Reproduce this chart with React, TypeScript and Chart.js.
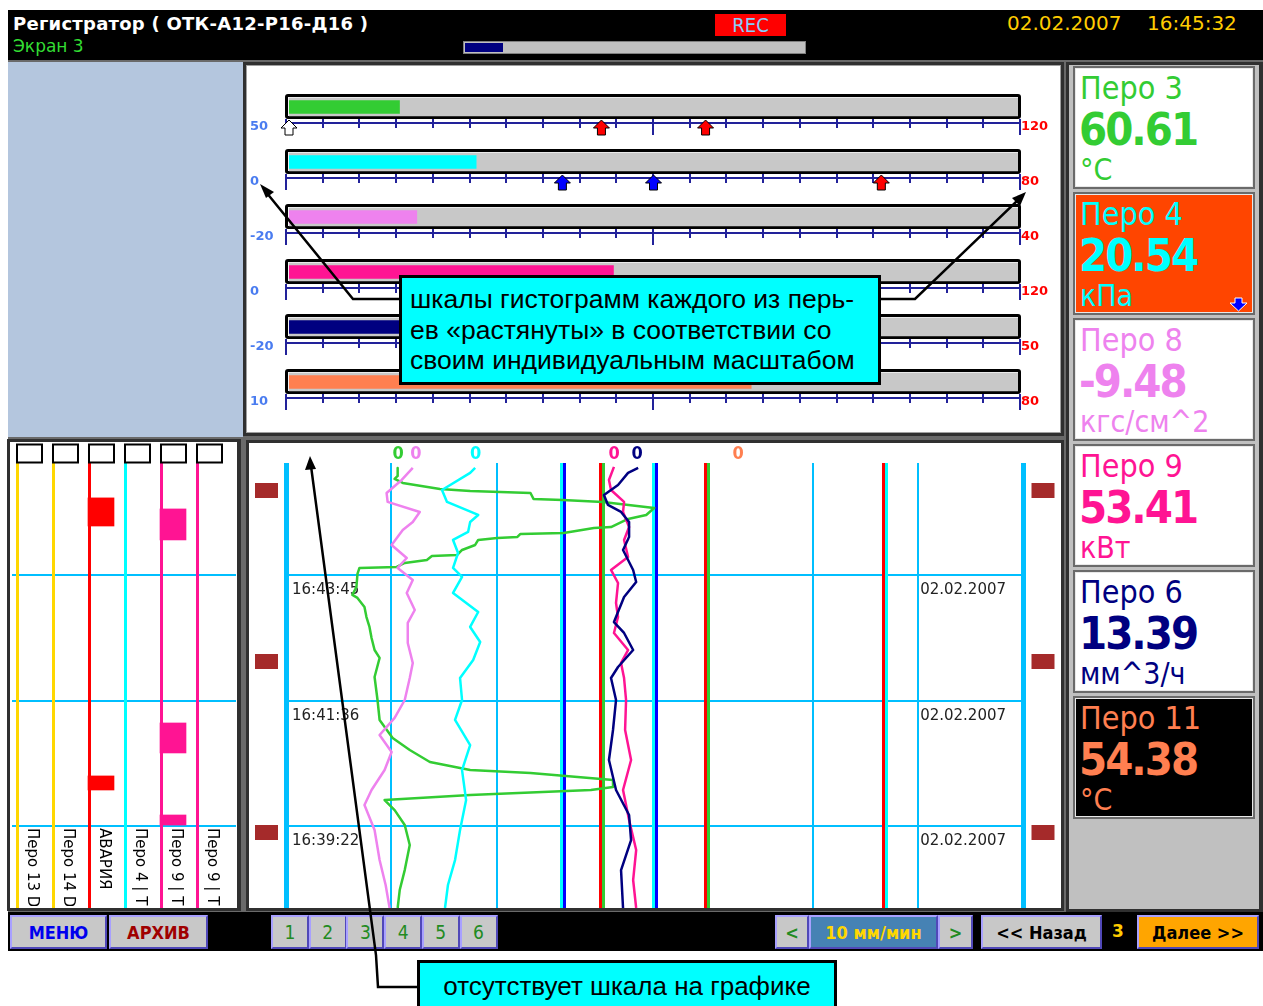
import React, { useEffect, useRef } from "react";
import { Chart, registerables } from "chart.js";
Chart.register(...registerables);

const FONT = '"DejaVu Sans", Verdana, sans-serif';
const FONT_C = '"DejaVu Sans Condensed", "DejaVu Sans", sans-serif';
const FONT_A = '"Liberation Sans", Arial, sans-serif';

// ---------- pens ----------
const penNames = ["Перо 3", "Перо 4", "Перо 8", "Перо 9", "Перо 6", "Перо 11"];
const penValues = [60.61, 20.54, -9.48, 53.41, 13.39, 54.38];
const penUnits = ["°C", "кПа", "кгс/см^2", "кВт", "мм^3/ч", "°C"];
const scaleMin = [50, 0, -20, 0, -20, 10];
const scaleMax = [120, 80, 40, 120, 50, 80];
const penColors = ["#33cc33", "#00ffff", "#ee82ee", "#ff1493", "#000080", "#ff7f50"];
const panelBg = ["#ffffff", "#ff4500", "#ffffff", "#ffffff", "#ffffff", "#000000"];
// pen position markers at the top of the trend (percent of scale)
const markerPct = [15.2, 25.7, 17.6, 44.5, 47.6, 61.3];

// ---------- alarms (setpoints) ----------
const alarmPen = [0, 0, 0, 1, 1, 1];
const alarmValue = [50, 80, 90, 30, 40, 65];
const alarmColor = ["#ffffff", "#ff0000", "#ff0000", "#0000ff", "#0000ff", "#ff0000"];

// ---------- time axis (divisions from top of trend) ----------
const timeGrid = [1, 2, 3];
const timeLabels = ["16:43:45", "16:41:36", "16:39:22"];
const dateLabel = "02.02.2007";
const timeMarks = [0.327, 1.685, 3.048];
const timeTop = 0.108;
const timeBottom = 3.653;

// ---------- trend traces: [time division, percent of pen scale] ----------
const pen3Trace = [[0.147,15.14],[0.211,15.14],[0.235,14.73],[0.267,15.83],[0.315,20.87],[0.331,24.97],[0.347,33.15],[0.394,33.56],[0.402,37.52],[0.418,42.97],[0.466,49.93],[0.522,48.84],[0.554,46.38],[0.618,44.07],[0.625,41.75],[0.665,37.65],[0.673,31.79],[0.697,31.38],[0.705,28.65],[0.721,26.06],[0.761,25.65],[0.801,23.87],[0.841,23.19],[0.849,19.78],[0.880,19.10],[0.904,16.10],[0.936,15.01],[0.944,9.96],[0.992,9.69],[1.096,9.55],[1.159,9.00],[1.183,9.69],[1.255,10.64],[1.335,10.91],[1.414,11.32],[1.502,11.60],[1.598,12.01],[1.661,12.69],[1.813,12.01],[1.996,12.41],[2.155,12.69],[2.299,14.46],[2.394,16.78],[2.490,19.51],[2.554,24.97],[2.578,33.15],[2.633,44.34],[2.689,44.34],[2.713,41.34],[2.753,24.97],[2.793,13.37],[2.873,14.73],[2.992,16.10],[3.151,16.78],[3.351,16.10],[3.510,15.42],[3.653,15.14]];
const pen8Trace = [[0.147,17.19],[0.243,15.69],[0.347,13.64],[0.418,13.78],[0.498,18.14],[0.578,17.19],[0.641,15.83],[0.761,14.32],[0.865,16.37],[0.944,15.14],[1.040,17.19],[1.143,16.37],[1.279,17.46],[1.382,16.51],[1.542,16.51],[1.701,17.19],[1.821,16.78],[1.996,16.10],[2.139,14.73],[2.275,12.69],[2.410,14.32],[2.554,13.37],[2.713,11.60],[2.833,10.64],[3.032,12.01],[3.271,12.69],[3.470,13.51],[3.653,14.05]];
const pen4Trace = [[0.147,25.65],[0.187,24.97],[0.323,21.15],[0.418,21.83],[0.522,26.06],[0.578,24.97],[0.657,24.69],[0.721,22.65],[0.825,23.33],[0.944,22.65],[1.016,23.87],[1.143,22.65],[1.295,26.06],[1.414,24.97],[1.534,26.33],[1.677,25.38],[1.821,23.60],[1.996,23.87],[2.155,22.92],[2.355,24.97],[2.554,23.87],[2.793,24.42],[3.032,23.60],[3.271,22.92],[3.470,21.96],[3.653,21.56]];
const pen9Trace = [[0.139,44.47],[0.243,43.79],[0.323,44.07],[0.418,45.84],[0.498,45.70],[0.618,46.52],[0.721,45.84],[0.857,46.38],[0.960,44.07],[1.064,45.02],[1.223,44.75],[1.335,45.02],[1.462,44.47],[1.598,46.38],[1.701,45.43],[1.821,45.84],[1.996,46.11],[2.235,45.98],[2.474,46.79],[2.713,45.70],[2.952,46.52],[3.191,47.48],[3.430,47.07],[3.653,47.48]];
const pen6Trace = [[0.147,47.75],[0.187,46.38],[0.283,45.02],[0.363,43.11],[0.442,43.66],[0.498,45.43],[0.578,46.52],[0.697,46.52],[0.801,45.70],[0.960,47.07],[1.056,47.48],[1.175,45.84],[1.375,44.47],[1.462,45.84],[1.598,47.07],[1.733,45.02],[1.821,44.07],[1.996,44.75],[2.235,44.34],[2.474,43.79],[2.713,44.75],[2.912,46.52],[3.112,46.79],[3.351,45.43],[3.653,45.70]];
const trendPens = [4, 3, 1, 2, 0];
const trendTraces = [pen6Trace, pen9Trace, pen4Trace, pen8Trace, pen3Trace];

// ---------- discrete events ----------
const eventChannels = ["Перо 13 D", "Перо 14 D", "АВАРИЯ", "Перо 4 | Т", "Перо 9 | Т", "Перо 9 | Т"];
const eventColors = ["#ffd700", "#ffd700", "#ff0000", "#00ffff", "#ff1493", "#ff1493"];
const eventChan = [2, 4, 4, 2, 4];
const eventFrom = [0.386, 0.474, 2.179, 2.601, 2.912];
const eventTo = [0.610, 0.721, 2.418, 2.713, 2.992];

const pct = (i: number, v: number) => ((v - scaleMin[i]) / (scaleMax[i] - scaleMin[i])) * 100;

function drawArrow(ctx: any, cx: number, top: number, color: string) {
  ctx.beginPath();
  ctx.moveTo(cx, top);
  ctx.lineTo(cx + 8, top + 8);
  ctx.lineTo(cx + 4, top + 8);
  ctx.lineTo(cx + 4, top + 15);
  ctx.lineTo(cx - 4, top + 15);
  ctx.lineTo(cx - 4, top + 8);
  ctx.lineTo(cx - 8, top + 8);
  ctx.closePath();
  ctx.fillStyle = color;
  ctx.fill();
  ctx.strokeStyle = "#000";
  ctx.lineWidth = 1;
  ctx.stroke();
}

// ---------- histogram ----------
const histPlugin = {
  id: "histDecor",
  beforeDatasetsDraw(chart: any) {
    const { ctx, scales: { x, y } } = chart;
    const x0 = x.getPixelForValue(0), x1 = x.getPixelForValue(100);
    ctx.save();
    penNames.forEach((_, i) => {
      const cy = y.getPixelForValue(i);
      ctx.fillStyle = "#000";
      ctx.beginPath();
      ctx.roundRect(x0 - 4, cy - 13, x1 - x0 + 7, 25, 3);
      ctx.fill();
      ctx.fillStyle = "#f4f4f4";
      ctx.fillRect(x0 - 1, cy - 10, x1 - x0 + 1, 19);
    });
    ctx.restore();
  },
  afterDatasetsDraw(chart: any) {
    const { ctx, scales: { x, y } } = chart;
    const a0 = x.getPixelForValue(0) - 3, a1 = x.getPixelForValue(100) + 2;
    ctx.save();
    penNames.forEach((_, i) => {
      const cy = y.getPixelForValue(i);
      ctx.fillStyle = "#22229a";
      ctx.fillRect(a0, Math.round(cy + 15), a1 - a0, 2);
      for (let k = 0; k <= 20; k++) {
        const tx = Math.round(a0 + ((a1 - a0) * k) / 20);
        ctx.fillRect(tx - 1, Math.round(cy + 12), 2, k % 10 === 0 ? 16 : 9);
      }
      ctx.font = `bold 13px ${FONT}`;
      ctx.textBaseline = "middle";
      ctx.textAlign = "left";
      ctx.fillStyle = "#4a7cf0";
      ctx.fillText(String(scaleMin[i]), 3, cy + 20);
      ctx.fillStyle = "#ff0000";
      ctx.fillText(String(scaleMax[i]), a1 + 1, cy + 20);
    });
    alarmPen.forEach((pi, k) => {
      const px = x.getPixelForValue(pct(pi, alarmValue[k]));
      drawArrow(ctx, px, y.getPixelForValue(pi) + 13, alarmColor[k]);
    });
    ctx.restore();
  },
};

function HistChart() {
  const ref = useRef<HTMLCanvasElement>(null);
  useEffect(() => {
    const chart = new Chart(ref.current as any, {
      type: "bar",
      data: {
        labels: penNames,
        datasets: [
          { data: penValues.map((v, i) => pct(i, v)), backgroundColor: penColors, barThickness: 13, grouped: false, order: 1 } as any,
          { data: penNames.map(() => 100), backgroundColor: "#c8c8c8", barThickness: 18, grouped: false, order: 2 } as any,
        ],
      },
      options: {
        indexAxis: "y",
        responsive: false,
        animation: false,
        events: [],
        layout: { padding: { left: 42, right: 42, top: 13.5, bottom: 22.5 } },
        scales: { x: { display: false, min: 0, max: 100 }, y: { display: false } },
        plugins: { legend: { display: false }, tooltip: { enabled: false } },
      },
      plugins: [histPlugin],
    } as any);
    return () => chart.destroy();
  }, []);
  return <canvas ref={ref} width={813} height={366} style={{ position: "absolute", left: 247, top: 66 }} />;
}

// ---------- trend ----------
const trendPlugin = {
  id: "trendDecor",
  beforeDatasetsDraw(chart: any) {
    const { ctx, chartArea: ca, scales: { x, y } } = chart;
    ctx.save();
    alarmPen.forEach((pi, k) => {
      const p = pct(pi, alarmValue[k]);
      if (p <= 0) return;
      const px = Math.round(x.getPixelForValue(p));
      const blue = alarmColor[k] === "#0000ff";
      ctx.fillStyle = blue ? penColors[pi] : alarmColor[k];
      ctx.fillRect(px - 3, ca.top, 3, ca.bottom - ca.top);
      ctx.fillStyle = blue ? alarmColor[k] : penColors[pi];
      ctx.fillRect(px, ca.top, 3, ca.bottom - ca.top);
    });
    ctx.font = `15px ${FONT}`;
    ctx.fillStyle = "#222";
    ctx.textBaseline = "alphabetic";
    ctx.textAlign = "left";
    timeGrid.forEach((t, i) => {
      const py = y.getPixelForValue(t);
      ctx.fillText(timeLabels[i], ca.left + 6, py + 19);
      ctx.fillText(dateLabel, x.getPixelForValue(600 / 7) + 2, py + 19);
    });
    ctx.restore();
  },
  afterDatasetsDraw(chart: any) {
    const { ctx, chartArea: ca, scales: { x, y } } = chart;
    ctx.save();
    ctx.fillStyle = "#a52a2a";
    timeMarks.forEach((t) => {
      const py = Math.round(y.getPixelForValue(t));
      ctx.fillRect(ca.left - 31, py - 7, 23, 15);
      ctx.fillRect(ca.right + 8, py - 7, 23, 15);
    });
    ctx.font = `bold 18px ${FONT_C}`;
    ctx.textAlign = "center";
    ctx.textBaseline = "middle";
    markerPct.forEach((p, i) => {
      ctx.fillStyle = penColors[i];
      ctx.fillText("0", x.getPixelForValue(p), ca.top - 9);
    });
    ctx.restore();
  },
};

function TrendChart() {
  const ref = useRef<HTMLCanvasElement>(null);
  useEffect(() => {
    const chart = new Chart(ref.current as any, {
      type: "scatter",
      data: {
        datasets: trendTraces.map((tr, k) => ({
          data: tr.map(([t, p]) => ({ x: p, y: t })),
          borderColor: penColors[trendPens[k]],
          backgroundColor: penColors[trendPens[k]],
          borderWidth: 2.5,
          pointRadius: 0,
          showLine: true,
          tension: 0,
          borderJoinStyle: "round",
        })),
      },
      options: {
        responsive: false,
        animation: false,
        events: [],
        layout: { padding: { left: 37, right: 37.5, top: 20, bottom: 0 } },
        scales: {
          x: {
            type: "linear",
            min: 0,
            max: 100,
            afterBuildTicks: (s: any) => { s.ticks = [0, 1, 2, 3, 4, 5, 6, 7].map((i) => ({ value: (i * 100) / 7 })); },
            afterFit: (s: any) => { s.height = 0; },
            ticks: { display: false },
            border: { display: false },
            grid: { color: "#00bfff", lineWidth: (c: any) => (c.index === 0 || c.index === 7 ? 5 : 2), drawTicks: false },
          },
          y: {
            type: "linear",
            reverse: true,
            min: timeTop,
            max: timeBottom,
            afterBuildTicks: (s: any) => { s.ticks = timeGrid.map((v) => ({ value: v })); },
            afterFit: (s: any) => { s.width = 0; },
            ticks: { display: false },
            border: { display: false },
            grid: { color: "#00bfff", lineWidth: 2, drawTicks: false },
          },
        },
        plugins: { legend: { display: false }, tooltip: { enabled: false } },
      },
      plugins: [trendPlugin],
    } as any);
    return () => chart.destroy();
  }, []);
  return <canvas ref={ref} width={812} height={465} style={{ position: "absolute", left: 249, top: 443 }} />;
}

// ---------- events ----------
const eventPlugin = {
  id: "eventDecor",
  beforeDatasetsDraw(chart: any) {
    const { ctx, chartArea: ca, scales: { x, y } } = chart;
    ctx.save();
    ctx.fillStyle = "#00bfff";
    timeGrid.forEach((t) => {
      const py = Math.round(y.getPixelForValue(t));
      ctx.fillRect(2, py - 1, chart.width - 3, 2);
    });
    eventChannels.forEach((_, i) => {
      const lx = Math.round(x.getPixelForValue(i) - 13);
      ctx.fillStyle = eventColors[i];
      ctx.fillRect(lx, ca.top, 3, ca.bottom - ca.top);
      ctx.strokeStyle = "#000";
      ctx.lineWidth = 2;
      ctx.strokeRect(lx + 1, 2.5, 25, 18);
    });
    ctx.beginPath();
    ctx.rect(0, ca.top, chart.width, ca.bottom - ca.top - 2);
    ctx.clip();
    ctx.font = `15px ${FONT}`;
    ctx.fillStyle = "#000";
    ctx.textBaseline = "bottom";
    ctx.textAlign = "left";
    const ly = y.getPixelForValue(timeGrid[timeGrid.length - 1]) + 2;
    eventChannels.forEach((name, i) => {
      const lx = x.getPixelForValue(i) - 13 + 8;
      ctx.save();
      ctx.translate(lx, ly);
      ctx.rotate(Math.PI / 2);
      ctx.fillText(name, 0, 0);
      ctx.restore();
    });
    ctx.restore();
  },
};

function EventChart() {
  const ref = useRef<HTMLCanvasElement>(null);
  useEffect(() => {
    const chart = new Chart(ref.current as any, {
      type: "bar",
      data: {
        labels: eventChannels,
        datasets: eventChan.map((c, k) => ({
          data: eventChannels.map((_, i) => (i === c ? [eventFrom[k], eventTo[k]] : null)),
          backgroundColor: eventColors[c],
          barThickness: 26,
          grouped: false,
        })) as any,
      },
      options: {
        responsive: false,
        animation: false,
        events: [],
        layout: { padding: { left: 1, right: 10, top: 21, bottom: 0 } },
        scales: {
          x: { type: "category", display: false },
          y: { type: "linear", display: false, reverse: true, min: timeTop, max: timeBottom },
        },
        plugins: { legend: { display: false }, tooltip: { enabled: false } },
      },
      plugins: [eventPlugin],
    } as any);
    return () => chart.destroy();
  }, []);
  return <canvas ref={ref} width={227} height={466} style={{ position: "absolute", left: 10, top: 442 }} />;
}

// ---------- html helpers ----------
function Txt(p: any) {
  const size = p.size;
  return (
    <div
      style={{
        position: "absolute",
        left: p.x,
        top: p.y - 0.846 * size,
        fontSize: size,
        lineHeight: 1,
        color: p.color,
        fontFamily: p.family || FONT,
        fontWeight: p.weight || "normal",
        letterSpacing: p.ls || 0,
        whiteSpace: "nowrap",
      }}
    >
      {p.children}
    </div>
  );
}

function Btn(p: any) {
  return (
    <div
      style={{
        position: "absolute",
        left: p.x,
        top: 915,
        width: p.w,
        height: 34,
        boxSizing: "border-box",
        background: p.bg || "#c8c8c8",
        borderStyle: "solid",
        borderWidth: 2,
        borderColor: "#a8a0ff #5048b8 #5048b8 #a8a0ff",
        color: p.color,
        fontFamily: p.family || FONT_C,
        fontSize: p.size || 18,
        fontWeight: p.weight || "normal",
        display: "flex",
        alignItems: "center",
        justifyContent: "center",
        whiteSpace: "nowrap",
      }}
    >
      {p.children}
    </div>
  );
}

const box = (l: number, t: number, r: number, b: number, bg: string, extra: any = {}) => (
  <div style={{ position: "absolute", left: l, top: t, width: r - l, height: b - t, background: bg, ...extra }} />
);

export default function App() {
  const numBtns = ["1", "2", "3", "4", "5", "6"];
  return (
    <div style={{ position: "absolute", left: 0, top: 0, width: 1263, height: 1006, overflow: "hidden", background: "#fff", fontFamily: FONT }}>
      {/* header */}
      {box(8, 10, 1263, 60, "#000")}
      <Txt x={13} y={30} size={18} color="#fff" weight="bold" ls={0.25}>Регистратор ( ОТК-А12-Р16-Д16 )</Txt>
      <Txt x={13} y={52} size={17} color="#33dd33">Экран 3</Txt>
      {box(715, 14, 786, 36, "#ff0000")}
      <div style={{ position: "absolute", left: 715, top: 14, width: 71, textAlign: "center", fontFamily: FONT_C, fontSize: 20, lineHeight: "22px", color: "#87cefa" }}>REC</div>
      {box(463, 41, 806, 54, "#c0c0c0", { border: "1px solid #808080", boxSizing: "border-box" })}
      {box(465, 43, 503, 52, "#000080")}
      <Txt x={1007} y={30} size={20} color="#ffcc00">02.02.2007</Txt>
      <Txt x={1147} y={30} size={20} color="#ffcc00">16:45:32</Txt>

      {/* body frame */}
      {box(8, 60, 1263, 912, "#6a6a6a")}
      {box(8, 62, 243, 437, "#b4c6de")}
      {box(243, 62, 1064, 436, "#303030")}
      {box(246, 65, 1061, 433, "#a0a0a0")}
      {box(247, 66, 1060, 432, "#ffffff")}
      {box(246, 440, 1064, 911, "#303030")}
      {box(249, 443, 1061, 908, "#ffffff")}
      {box(7, 439, 241, 911, "#303030")}
      {box(10, 442, 237, 908, "#ffffff")}
      {box(1066, 62, 1263, 912, "#303030")}
      {box(1069, 65, 1259, 909, "#c0c0c0")}

      <HistChart />
      <TrendChart />
      <EventChart />

      {/* pen value panels */}
      {penNames.map((n, i) => {
        const top = 66 + i * 126;
        return (
          <div key={i} style={{ position: "absolute", left: 1073, top, width: 182, height: 123, boxSizing: "border-box", background: panelBg[i], border: "2px solid #6a6a6a", boxShadow: "inset 0 0 0 1px #e8e8e8" }}>
            <Txt x={5} y={31} size={32} color={penColors[i]} family={FONT_C}>{n}</Txt>
            <Txt x={4} y={77} size={45} color={penColors[i]} family={FONT_C} weight="bold" ls={-2}>{penValues[i].toFixed(2)}</Txt>
            <Txt x={5} y={112} size={30} color={penColors[i]} family={FONT_C}>{penUnits[i]}</Txt>
          </div>
        );
      })}
      <svg style={{ position: "absolute", left: 1229, top: 297 }} width={20} height={15}>
        <polygon points="6,1 13,1 13,6 18,6 9.5,14 1,6 6,6" fill="#0000ff" stroke="#ffffff" strokeWidth={1} />
      </svg>

      {/* bottom bar */}
      {box(8, 912, 1263, 951, "#000")}
      <Btn x={10} w={97} color="#0000ee" weight="bold">МЕНЮ</Btn>
      <Btn x={109} w={99} color="#a00000" weight="bold">АРХИВ</Btn>
      {numBtns.map((b, i) => (
        <Btn key={b} x={271 + i * 37.7} w={38} color="#228b22" size={19}>{b}</Btn>
      ))}
      <Btn x={775} w={34} color="#228b22" weight="bold">&lt;</Btn>
      <Btn x={809} w={129} bg="#4682b4" color="#ffd700" weight="bold">10 мм/мин</Btn>
      <Btn x={938} w={35} color="#228b22" weight="bold">&gt;</Btn>
      <Btn x={981} w={121} color="#000" weight="bold">&lt;&lt; Назад</Btn>
      <Txt x={1112} y={937} size={17} color="#ffcc00" weight="bold">3</Txt>
      <Btn x={1137} w={122} bg="#ffa500" color="#000" weight="bold">Далее &gt;&gt;</Btn>

      {/* callouts */}
      <svg style={{ position: "absolute", left: 0, top: 0 }} width={1263} height={1006}>
        <polyline points="399,299 353,299 266,192" fill="none" stroke="#000" strokeWidth={2.5} />
        <polygon points="260,184 274,192 266,198" fill="#000" />
        <polyline points="881,299 915,299 1019,199" fill="none" stroke="#000" strokeWidth={2.5} />
        <polygon points="1026,192 1020,206 1012,198" fill="#000" />
        <polyline points="417,987 378,987 376,955 311,466" fill="none" stroke="#000" strokeWidth={2.5} />
        <polygon points="310,456 305,470 316,469" fill="#000" />
      </svg>
      <div style={{ position: "absolute", left: 399, top: 275, width: 482, height: 110, boxSizing: "border-box", background: "#00ffff", border: "3px solid #000", padding: "6px 0 0 8px", fontFamily: FONT_A, fontSize: 26.5, lineHeight: "30.5px", color: "#000", whiteSpace: "nowrap" }}>
        шкалы гистограмм каждого из перь-
        <br />
        ев «растянуты» в соответствии со
        <br />
        своим индивидуальным масштабом
      </div>
      <div style={{ position: "absolute", left: 417, top: 960, width: 420, height: 60, boxSizing: "border-box", background: "#00ffff", border: "3px solid #000", fontFamily: FONT_A, fontSize: 26, paddingTop: 8, textAlign: "center", color: "#000", whiteSpace: "nowrap" }}>
        отсутствует шкала на графике
      </div>
    </div>
  );
}
